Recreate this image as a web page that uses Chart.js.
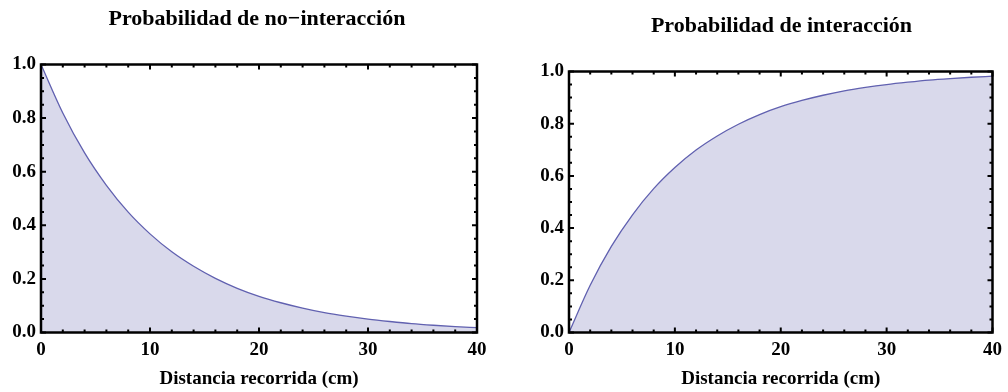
<!DOCTYPE html>
<html>
<head>
<meta charset="utf-8">
<script src="https://cdn.jsdelivr.net/npm/chart.js@4"></script>
<style>
  html, body { margin: 0; padding: 0; background: #fff; }
  .panel { position: absolute; top: 0; width: 504px; height: 392px; }
  #left { left: 0; }
  #right { left: 504px; }
</style>
</head>
<body>
<div class="panel" id="left"><canvas id="cLeft" width="504" height="392"></canvas></div>
<div class="panel" id="right"><canvas id="cRight" width="504" height="392"></canvas></div>
<script>
// values (distance in cm)
const distance = [0, 2, 4, 6, 8, 10, 12, 14, 16, 18, 20, 22, 24, 26, 28, 30, 32, 34, 36, 38, 40];
const noInteraction = [1.0, 0.819, 0.670, 0.549, 0.449, 0.368, 0.301, 0.247, 0.202, 0.165, 0.135,
  0.111, 0.091, 0.074, 0.061, 0.050, 0.041, 0.033, 0.027, 0.022, 0.018];
const interaction = [0.0, 0.181, 0.330, 0.451, 0.551, 0.632, 0.699, 0.753, 0.798, 0.835, 0.865,
  0.889, 0.909, 0.926, 0.939, 0.950, 0.959, 0.967, 0.973, 0.978, 0.982];
const xTicks = [0, 10, 20, 30, 40];
const yTicks = [0.0, 0.2, 0.4, 0.6, 0.8, 1.0];

const SERIF = '"Liberation Serif", "Times New Roman", serif';
const LINE = '#6161b0';
const FILL = '#d9d9eb';

// black frame with inward ticks on every side
const framePlugin = {
  id: 'frame',
  afterDraw(chart) {
    const { ctx, chartArea: a, scales } = chart;
    const x = scales.x, y = scales.y;
    ctx.save();
    ctx.strokeStyle = '#000';
    ctx.lineWidth = 2;
    ctx.beginPath();
    for (let v = 0; v <= 40; v += 2) {
      const px = x.getPixelForValue(v);
      const len = v % 10 === 0 ? 5 : 3;
      ctx.moveTo(px, a.bottom); ctx.lineTo(px, a.bottom - len);
      ctx.moveTo(px, a.top); ctx.lineTo(px, a.top + len);
    }
    for (let i = 0; i <= 20; i++) {
      const py = y.getPixelForValue(i * 0.05);
      const len = i % 4 === 0 ? 5 : 3;
      ctx.moveTo(a.left, py); ctx.lineTo(a.left + len, py);
      ctx.moveTo(a.right, py); ctx.lineTo(a.right - len, py);
    }
    ctx.stroke();
    ctx.lineWidth = 2.5;
    ctx.strokeRect(a.left, a.top, a.right - a.left, a.bottom - a.top);
    ctx.restore();
  }
};

// panel title, placed by hand because the built-in one centres on the whole canvas
const titlePlugin = {
  id: 'panelTitle',
  afterDraw(chart, args, opts) {
    const ctx = chart.ctx;
    ctx.save();
    ctx.fillStyle = '#000';
    ctx.font = 'bold 22px ' + SERIF;
    ctx.textAlign = 'center';
    ctx.textBaseline = 'middle';
    ctx.fillText(opts.text, opts.x, opts.y);
    ctx.restore();
  }
};

function makeChart(id, title, values, opts) {
  const ctx = document.getElementById(id).getContext('2d');
  return new Chart(ctx, {
    type: 'line',
    data: {
      datasets: [{
        data: distance.map((d, i) => ({ x: d, y: values[i] })),
        borderColor: LINE,
        borderWidth: 1.3,
        backgroundColor: FILL,
        fill: 'origin',
        pointRadius: 0,
        cubicInterpolationMode: 'monotone',
      }],
    },
    options: {
      responsive: false,
      animation: false,
      layout: { padding: { left: 0, right: opts.padRight, top: opts.padTop, bottom: 0 } },
      plugins: {
        legend: { display: false },
        tooltip: { enabled: false },
        title: { display: false },
        panelTitle: { text: title, x: opts.titleX, y: opts.titleY },
      },
      scales: {
        x: {
          type: 'linear',
          min: 0, max: 40,
          afterBuildTicks: s => { s.ticks = xTicks.map(v => ({ value: v })); },
          afterFit: s => { s.height = 59.5; },
          grid: { display: false, drawTicks: false },
          border: { display: false },
          ticks: { color: '#000', padding: 6, maxRotation: 0,
            font: { family: SERIF, size: 19, weight: 'bold' } },
          title: {
            display: true,
            text: 'Distancia recorrida (cm)',
            color: '#000',
            font: { family: SERIF, size: 19, weight: 'bold' },
            padding: { top: 0, bottom: 2 },
          },
        },
        y: {
          min: 0, max: 1,
          afterBuildTicks: s => { s.ticks = yTicks.map(v => ({ value: v })); },
          afterFit: s => { s.width = opts.axisWidth; },
          grid: { display: false, drawTicks: false },
          border: { display: false },
          ticks: { color: '#000', padding: 5,
            callback: v => v.toFixed(1),
            font: { family: SERIF, size: 19, weight: 'bold' } },
        },
      },
    },
    plugins: [framePlugin, titlePlugin],
  });
}

makeChart('cLeft', 'Probabilidad de no\u2212interacción', noInteraction,
  { axisWidth: 41, padRight: 27, padTop: 64.5, titleX: 257, titleY: 19 });
makeChart('cRight', 'Probabilidad de interacción', interaction,
  { axisWidth: 65, padRight: 11, padTop: 71.5, titleX: 277.5, titleY: 26.5 });
</script>
</body>
</html>
